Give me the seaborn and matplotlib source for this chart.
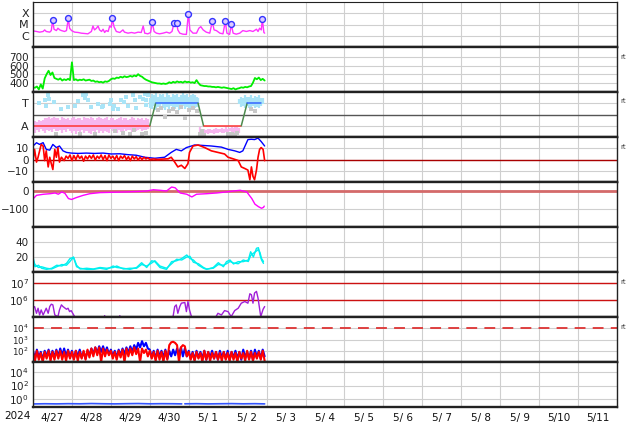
import numpy as np
import matplotlib
matplotlib.use('Agg')
import matplotlib.pyplot as plt
import seaborn as sns
from matplotlib.ticker import FixedLocator, FixedFormatter, NullLocator

sns.set_style('white')
plt.rcParams['font.family'] = ['DejaVu Sans']

# ---------------- data ----------------
day_labels = ['4/27', '4/28', '4/29', '4/30', '5/ 1', '5/ 2', '5/ 3', '5/ 4',
              '5/ 5', '5/ 6', '5/ 7', '5/ 8', '5/ 9', '5/10', '5/11']
year_label = '2024'

# X-ray flux (log10 W/m2), time in days from 4/27 00UT
xray_t = [0.00, 0.09, 0.17, 0.26, 0.30, 0.34, 0.43, 0.47, 0.505, 0.54,
          0.60, 0.64, 0.69, 0.73, 0.81, 0.86, 0.908, 0.94, 0.99, 1.07,
          1.16, 1.24, 1.33, 1.41, 1.50, 1.54, 1.58, 1.63, 1.67, 1.71,
          1.76, 1.80, 1.84, 1.88, 1.93, 1.97, 2.01, 2.038, 2.08, 2.14,
          2.23, 2.31, 2.35, 2.44, 2.53, 2.61, 2.70, 2.78, 2.83, 2.87,
          2.95, 3.02, 3.065, 3.11, 3.17, 3.25, 3.34, 3.43, 3.51, 3.57,
          3.622, 3.656, 3.69, 3.72, 3.77, 3.85, 3.94, 3.99, 4.03, 4.11,
          4.20, 4.26, 4.31, 4.37, 4.45, 4.54, 4.606, 4.65, 4.71, 4.80,
          4.88, 4.94, 4.98, 5.05, 5.094, 5.14, 5.22, 5.31, 5.39, 5.48,
          5.57, 5.65, 5.74, 5.78, 5.82, 5.865, 5.89, 5.93, 5.95]
xray_log = [-5.57, -5.62, -5.68, -5.62, -5.48, -5.62, -5.68, -5.54, -4.61, -5.42,
            -5.54, -5.33, -5.48, -5.54, -5.62, -5.54, -4.46, -5.33, -5.54, -5.68,
            -5.71, -5.77, -5.80, -5.83, -5.62, -5.13, -5.48, -5.33, -5.13, -5.48,
            -5.62, -5.42, -5.71, -5.54, -5.62, -5.13, -5.25, -4.46, -5.19, -5.62,
            -5.71, -5.48, -5.68, -5.77, -5.71, -5.77, -5.68, -5.71, -5.13, -5.77,
            -5.83, -5.71, -4.81, -5.62, -5.77, -5.83, -5.77, -5.68, -5.77, -5.62,
            -4.90, -5.19, -4.90, -5.48, -5.77, -5.86, -5.88, -4.03, -5.48, -5.77,
            -5.77, -5.33, -5.19, -5.48, -5.68, -5.77, -4.72, -5.48, -5.54, -5.77,
            -5.83, -4.72, -5.77, -5.88, -4.99, -5.77, -5.86, -5.77, -5.54, -5.62,
            -5.54, -5.62, -5.42, -5.62, -5.33, -5.48, -4.52, -5.71, -5.77]
flare_t = [0.505, 0.908, 2.038, 3.065, 3.622, 3.69, 3.99, 4.606, 4.94, 5.094, 5.89]
flare_log = [-4.61, -4.46, -4.46, -4.81, -4.90, -4.90, -4.03, -4.72, -4.72, -4.99, -4.52]

# Solar wind speed (km/s), every 0.05 day
sw_speed = [345, 340, 355, 320, 380, 330, 450, 500, 540, 490,
            520, 455, 445, 435, 450, 425, 440, 430, 445, 430,
            640, 430, 440, 425, 435, 430, 440, 425, 430, 435,
            420, 425, 410, 415, 405, 410, 400, 415, 410, 420,
            440, 450, 445, 460, 455, 470, 460, 475, 465, 470,
            480, 470, 485, 475, 500, 480, 470, 450, 435, 425,
            415, 405, 400, 395, 390, 390, 385, 390, 385, 390,
            405, 395, 410, 400, 415, 405, 410, 400, 415, 405,
            410, 400, 405, 395, 430, 395, 370, 365, 360, 360,
            355, 355, 350, 350, 345, 350, 345, 340, 345, 340,
            335, 330, 325, 335, 320, 330, 335, 345, 340, 350,
            345, 355, 360, 400, 455, 440, 460, 430, 445, 425]

# IMF sector (T=+1, A=-1)
sector_t = [0.0, 3.0, 3.15, 4.24, 4.38, 5.35, 5.5, 5.86]
sector_v = [-1, -1, 1, 1, -1, -1, 1, 1]
pink1_hi = [-0.7, -0.6, -0.65, -0.5, -0.55, -0.45, -0.3, -0.35, -0.25, -0.4,
            -0.3, -0.2, -0.35, -0.3, -0.45, -0.25, -0.3, -0.4, -0.35, -0.5,
            -0.3, -0.25, -0.4, -0.35, -0.3, -0.45, -0.2, -0.35, -0.3, -0.4,
            -0.25, -0.35, -0.45, -0.3, -0.2, -0.35, -0.4, -0.3, -0.25, -0.45,
            -0.35, -0.3, -0.5, -0.4, -0.3, -0.25, -0.45, -0.35, -0.3, -0.5,
            -0.4, -0.25, -0.35, -0.45, -0.3, -0.4, -0.35, -0.5, -0.3, -0.4]
pink1_lo = [-1.5, -1.6, -1.4, -1.55, -1.3, -1.45, -1.6, -1.35, -1.5, -1.4,
            -1.55, -1.3, -1.45, -1.5, -1.35, -1.6, -1.4, -1.55, -1.3, -1.5,
            -1.6, -1.45, -1.7, -1.5, -1.55, -1.4, -1.65, -1.5, -1.45, -1.6,
            -1.7, -1.5, -1.55, -1.4, -1.6, -1.5, -1.65, -1.45, -1.55, -1.6,
            -1.3, -1.5, -1.4, -1.6, -1.35, -1.55, -1.45, -1.3, -1.5, -1.4,
            -1.35, -1.55, -1.3, -1.45, -1.4, -1.3, -1.5, -1.35, -1.4, -1.3]
pink2_hi = [-1.1, -1.3, -1.25, -1.35, -1.3, -1.25, -1.35, -1.3, -1.2, -1.3, -1.25,
            -1.2, -1.3, -1.15, -1.25, -1.2, -1.1, -1.2, -1.15, -1.1, -1.2]
pink2_lo = [-1.7, -1.75, -1.7, -1.65, -1.7, -1.6, -1.65, -1.7, -1.6, -1.65, -1.55,
            -1.6, -1.65, -1.55, -1.6, -1.5, -1.55, -1.6, -1.5, -1.55, -1.6]
lblue2_hi = [1.5, 1.8, 1.7, 1.9, 1.6, 1.85, 1.7, 1.8, 1.6, 1.9, 1.75, 1.6, 1.8,
             1.7, 1.85, 1.6, 1.75, 1.9, 1.7, 1.8, 1.6, 1.75, 1.85, 1.7, 1.6, 1.5]
lblue2_lo = [0.6, 0.5, 0.8, 0.4, 0.7, 0.5, 0.9, 0.6, 0.4, 0.7, 0.5, 0.8, 0.6,
             0.5, 0.7, 0.4, 0.6, 0.8, 0.5, 0.7, 0.6, 0.5, 0.8, 0.6, 0.7, 0.9]
lblue3_hi = [1.4, 1.6, 1.5, 1.7, 1.55, 1.6, 1.75, 1.5, 1.65, 1.6, 1.7, 1.5, 1.45]
lblue3_lo = [0.9, 0.7, 0.8, 0.6, 0.75, 0.6, 0.7, 0.8, 0.55, 0.7, 0.6, 0.8, 0.9]
lblue_dot_t = [0.30, 0.34, 0.39, 0.40, 1.29, 1.33, 1.37, 1.40, 1.67, 1.76, 1.80, 1.97,
               2.01, 2.05, 2.08, 2.18, 2.35, 2.40, 2.44, 2.57, 2.61, 2.65, 2.74, 2.83,
               2.87, 2.89, 2.91, 2.95, 1.07, 0.73, 0.90, 0.15, 0.55, 1.15, 1.50, 2.25]
lblue_dot_v = [1.3, 0.8, 1.7, 1.4, 1.7, 1.5, 1.85, 1.3, 0.95, 0.65, 0.8, 0.95,
               1.25, 0.5, 0.8, 0.5, 1.1, 1.55, 0.8, 1.7, 1.3, 0.6, 1.55, 1.4,
               1.85, 1.3, 0.85, 1.7, 0.8, 0.5, 0.65, 1.0, 1.1, 1.2, 0.7, 1.3]
gray_dot_t = [2.1, 2.3, 2.5, 2.6, 2.8, 2.9, 3.2, 3.3, 3.4, 3.5, 3.6, 3.7, 3.8, 3.9,
              4.0, 4.1, 4.2, 4.3, 4.35, 4.4, 5.0, 5.1, 5.2, 5.25, 5.6, 5.7, 0.6, 1.2, 1.6]
gray_dot_v = [-1.5, -1.6, -1.7, -1.4, -1.75, -1.6, 0.4, 0.6, -0.2, 0.3, 0.5, 0.2, 0.7, -0.3,
              0.4, 0.6, 0.3, -1.7, -1.5, -1.8, -1.75, -1.7, -1.8, -1.6, 0.5, 0.3, -1.7, -1.75, -1.7]

# IMF Bt and Bz (nT)
bt_t = [0.00, 0.09, 0.17, 0.26, 0.34, 0.43, 0.51, 0.60, 0.68, 0.77, 0.86, 0.98,
        1.16, 1.37, 1.58, 1.80, 2.01, 2.23, 2.44, 2.65, 2.87, 3.13, 3.38, 3.55,
        3.68, 3.81, 3.94, 4.07, 4.15, 4.32, 4.58, 4.84, 5.01, 5.18, 5.31, 5.39,
        5.52, 5.61, 5.69, 5.78, 5.86, 5.95]
bt_v = [12, 14.9, 13.4, 15, 9, 8.3, 13.4, 10.6, 12, 7.7, 6.3, 5.7,
        5.4, 5.7, 5.4, 5.7, 4.9, 5.1, 4.3, 3.8, 2.0, 1.1, 2.0, 6.3,
        9, 7.7, 10.6, 12, 12.9, 12.6, 12, 11, 9, 7.7, 6.3, 7.7,
        17.7, 18, 17.7, 19, 16, 12]
bz_t = [0.00, 0.04, 0.09, 0.13, 0.17, 0.21, 0.26, 0.30, 0.34, 0.39, 0.43, 0.47,
        0.51, 0.56, 0.60, 0.64, 0.68, 0.73, 0.80, 0.85, 0.90, 0.95, 1.00, 1.05,
        1.10, 1.15, 1.20, 1.25, 1.30, 1.35, 1.40, 1.45, 1.50, 1.55, 1.60, 1.65,
        1.70, 1.75, 1.80, 1.85, 1.90, 1.95, 2.00, 2.05, 2.10, 2.15, 2.20, 2.25,
        2.30, 2.35, 2.40, 2.45, 2.50, 2.55, 2.60, 2.65, 2.70, 2.75, 2.80, 2.85,
        2.90, 2.95, 3.00, 3.10, 3.20, 3.30, 3.40, 3.47, 3.55, 3.64, 3.72, 3.81,
        3.90, 3.98, 4.02, 4.11, 4.24, 4.41, 4.58, 4.75, 4.92, 5.01, 5.14, 5.27,
        5.35, 5.44, 5.52, 5.57, 5.61, 5.65, 5.69, 5.74, 5.78, 5.82, 5.86, 5.91, 5.95]
bz_v = [-1, 9, -2.3, 2, 7.7, 13.4, 12, -1, 7.7, -6.6, 2, -3.7,
        -8.9, 9, 2, 10.6, -2.3, 2, -1, 3, 1, 4, -1, 3.5,
        0, 4, 1, 3, -1.5, 3, 0.5, 3.5, 1, 4, -0.5, 3,
        1, 4, 0, 3.5, -1, 4, 1, 3, 0, 3.5, -1, 3,
        1, 3.5, 0, 2.5, -1, 3, 0.5, 2.5, -0.5, 2, 0, 2,
        0.5, 1.5, 0, 0.5, 0, 0.3, 0.5, 0.6, 2, -2.3, -6.6, -5.1,
        -8, -3.7, 6.3, 12, 12.9, 10.6, 7.7, 6.3, 4.9, 2, 0.6, -0.9,
        -6.6, -8, -9.4, -18, -6.6, -15, -18, -9.4, 2, 9, 10.6, 9, -1]

# Dst (nT)
dst_t = [0.01, 0.09, 0.27, 0.44, 0.57, 0.65, 0.74, 0.82, 0.91, 0.99, 1.12, 1.29, 1.46,
         1.72, 2.06, 2.41, 2.75, 2.92, 3.09, 3.26, 3.43, 3.56, 3.65, 3.78, 3.95, 4.08,
         4.20, 4.46, 4.72, 4.97, 5.15, 5.32, 5.49, 5.62, 5.70, 5.79, 5.87, 5.92, 5.94]
dst_v = [-42, -24, -18, -15, -11, -18, -5, -13, -42, -47, -36, -24, -15,
         -9, -7, -5, -2, 0, 7, 4, 0, 22, 18, -11, -18, -33,
         -18, -15, -11, -5, 0, 4, -5, -42, -73, -87, -96, -91, -84]

# Cyan index (two traces)
cyan_t = [0.01, 0.05, 0.14, 0.22, 0.35, 0.48, 0.61, 0.74, 0.86, 0.95, 1.04, 1.12, 1.21,
          1.38, 1.55, 1.72, 1.89, 2.06, 2.15, 2.32, 2.49, 2.66, 2.79, 2.92, 3.05, 3.13,
          3.26, 3.43, 3.56, 3.69, 3.82, 3.95, 4.03, 4.12, 4.25, 4.38, 4.46, 4.63, 4.76,
          4.89, 4.97, 5.06, 5.15, 5.27, 5.40, 5.53, 5.59, 5.66, 5.74, 5.79, 5.83, 5.87, 5.92]
cyan_a = [18, 7, 9, 5, 3.5, 5, 9, 8, 11.5, 18, 19.5, 7, 5,
          3.5, 3.5, 5, 3.5, 8, 6, 5, 3.5, 6, 12.4, 6, 15, 13.8,
          6, 3.5, 13.8, 15, 18, 22.7, 18, 16, 9, 5, 3.5, 6, 12.4,
          7, 13.8, 16, 10.7, 13.8, 13.8, 16, 27, 20, 31.6, 32.4, 22.7, 16, 11.5]
cyan_b = [15, 10, 6, 7, 5, 4, 7, 10, 9, 14, 20, 9, 4,
          5, 4, 6, 5, 6, 8, 4, 5, 5, 10, 8, 12, 15,
          8, 5, 11, 17, 16, 20, 21, 13, 11, 6, 4, 5, 10,
          9, 11, 14, 12, 11, 16, 14, 22, 25, 28, 30, 26, 18, 14]

# Electron flux (log10)
el_t = [0.00, 0.04, 0.09, 0.13, 0.17, 0.21, 0.26, 0.34, 0.39, 0.43, 0.47, 0.51, 0.56,
        0.64, 0.68, 0.73, 0.77, 0.86, 0.90, 0.94, 0.98, 1.03, 1.07, 1.16, 1.80, 1.84,
        1.88, 2.19, 2.23, 2.27, 3.50, 3.60, 3.64, 3.68, 3.72, 3.77, 3.81, 3.90, 3.94,
        3.98, 4.02, 4.07, 4.15, 4.62, 4.71, 4.75, 4.84, 4.92, 5.01, 5.09, 5.18, 5.27,
        5.35, 5.44, 5.52, 5.57, 5.61, 5.65, 5.69, 5.74, 5.78, 5.85, 5.91, 5.95]
el_log = [5.5, 5.6, 5.2, 5.5, 5.1, 5.4, 5.1, 5.5, 5.2, 5.6, 5.74, 5.7, 5.1,
          5.0, 5.4, 5.7, 5.6, 5.44, 5.5, 5.3, 5.36, 5.16, 5.0, 4.6, 4.6, 5.06,
          4.6, 4.6, 5.06, 4.6, 4.6, 5.04, 5.6, 5.7, 5.2, 5.6, 5.8, 5.84, 5.3,
          5.9, 5.4, 5.0, 4.6, 4.6, 5.04, 5.2, 5.1, 5.36, 5.3, 5.0, 5.36, 5.5,
          5.8, 5.9, 5.8, 6.36, 6.3, 5.8, 6.4, 6.5, 6.1, 5.0, 5.44, 5.6]

# Proton flux (log10), every 0.05 day
pro_blue = [2.0, 1.3, 2.1, 1.4, 1.9, 1.2, 2.0, 1.5, 2.1, 1.3, 2.0, 1.4, 2.1, 1.5, 2.2, 1.6, 2.2, 1.5, 2.1, 1.4,
            2.0, 1.3, 2.0, 1.5, 2.1, 1.4, 1.9, 1.3, 2.0, 1.6, 2.2, 1.7, 2.3, 1.8, 2.4, 1.9, 2.4, 1.8, 2.3, 1.7,
            2.1, 1.5, 2.0, 1.4, 2.1, 1.6, 2.2, 1.7, 2.3, 1.8, 2.4, 1.9, 2.5, 2.1, 2.7, 2.3, 2.85, 2.4, 2.7, 2.2,
            2.1, 1.4, 2.0, 1.3, 2.1, 1.5, 2.0, 1.4, 2.1, 1.3, 2.0, 1.5, 2.1, 1.6, 2.2, 1.7, 2.3, 1.5, 2.2, 1.5,
            2.0, 1.3, 1.9, 1.2, 2.0, 1.4, 1.9, 1.3, 2.0, 1.2, 1.9, 1.4, 2.0, 1.3, 1.9, 1.2, 2.0, 1.4, 1.9, 1.3,
            2.0, 1.2, 1.9, 1.4, 2.0, 1.3, 1.9, 1.2, 2.1, 1.4, 1.9, 1.3, 2.0, 1.2, 2.1, 1.4, 2.0, 1.3, 2.1, 1.5]
pro_red = [1.9, 1.1, 2.0, 1.2, 1.8, 1.0, 1.9, 1.3, 2.0, 1.1, 1.9, 1.2, 2.0, 1.3, 2.0, 1.2, 1.9, 1.1, 2.0, 1.3,
           1.9, 1.2, 2.0, 1.1, 1.9, 1.3, 2.0, 1.2, 2.1, 1.4, 2.2, 1.5, 2.3, 1.6, 2.3, 1.0, 2.2, 1.5, 2.1, 1.6,
           2.0, 1.3, 1.9, 1.2, 2.0, 1.4, 2.1, 1.0, 2.2, 1.5, 2.2, 1.6, 2.3, 1.7, 2.2, 1.0, 2.2, 1.8, 2.1, 1.5,
           2.0, 1.3, 1.9, 1.1, 2.0, 1.2, 1.9, 1.0, 2.0, 1.2, 2.5, 2.75, 2.8, 2.7, 2.5, 1.0, 2.3, 2.5, 2.4, 1.5,
           1.9, 1.2, 1.8, 1.1, 1.9, 1.3, 1.8, 1.0, 2.0, 1.2, 1.9, 1.1, 1.8, 1.3, 1.9, 1.2, 1.8, 1.1, 1.9, 1.2,
           1.8, 1.1, 1.9, 1.2, 1.8, 1.0, 1.9, 1.3, 1.8, 1.1, 2.0, 1.2, 1.9, 1.1, 1.8, 1.3, 1.9, 1.2, 2.0, 1.1]

# Bottom panel (log10)
low_t1 = [0.0, 0.3, 0.6, 0.9, 1.2, 1.5, 1.8, 2.1, 2.4, 2.7, 3.0, 3.3, 3.6, 3.82]
low_v1 = [-0.66, -0.63, -0.65, -0.62, -0.64, -0.60, -0.63, -0.65, -0.62, -0.60, -0.64, -0.62, -0.63, -0.65]
low_t2 = [3.9, 4.2, 4.5, 4.8, 5.1, 5.4, 5.7, 5.95]
low_v2 = [-0.64, -0.62, -0.65, -0.63, -0.61, -0.64, -0.62, -0.65]

# ---------------- figure ----------------
W, H = 634, 424
fig = plt.figure(figsize=(W / 100, H / 100), dpi=100)
L, R = 33, 617
tops = [2, 47, 92, 137, 182, 227, 272, 317, 362]
PH = 45
GRID = '#cfcfcf'
FS = 7.5


def line(ax, x, y, color, lw=1.0, **kw):
    sns.lineplot(x=np.asarray(x, float), y=np.asarray(y, float), ax=ax, color=color,
                 linewidth=lw, estimator=None, sort=False, legend=False, **kw)


axes = []
for i, t in enumerate(tops):
    ax = fig.add_axes([L / W, 1 - (t + PH) / H, (R - L) / W, PH / H])
    ax.set_xlim(0, 15)
    ax.xaxis.set_major_locator(FixedLocator(range(16)))
    ax.xaxis.set_minor_locator(FixedLocator([d + 0.5 for d in range(15)]))
    ax.tick_params(axis='x', which='major', length=2, direction='in', labelbottom=False, colors='#333333')
    ax.tick_params(axis='x', which='minor', length=0, labelbottom=False)
    ax.tick_params(axis='y', which='major', length=0, pad=3, labelsize=FS, labelcolor='#222222')
    ax.tick_params(axis='y', which='minor', length=0)
    ax.grid(True, axis='x', which='major', color=GRID, lw=0.8)
    ax.grid(True, axis='y', which='major', color=GRID, lw=0.8)
    ax.set_axisbelow(True)
    for s in ['left', 'right']:
        ax.spines[s].set_color('#222222')
        ax.spines[s].set_linewidth(1.0)
    for s in ['top', 'bottom']:
        ax.spines[s].set_color('#222222')
        ax.spines[s].set_linewidth(1.7)
    if i == 0:
        ax.spines['top'].set_linewidth(0.8)
    axes.append(ax)

# Panel 1: X-ray
ax = axes[0]
ax.set_yscale('log')
ax.set_ylim(1e-7, 1e-3)
ax.yaxis.set_major_locator(FixedLocator([1e-6, 1e-5, 1e-4]))
ax.yaxis.set_major_formatter(FixedFormatter(['C', 'M', 'X']))
ax.yaxis.set_minor_locator(NullLocator())
ax.tick_params(axis='y', labelsize=8)
line(ax, xray_t, 10 ** np.array(xray_log), '#ff33ff', 1.0)
sns.scatterplot(x=flare_t, y=10 ** np.array(flare_log), ax=ax, s=18, marker='o',
                color='#dccbff', edgecolor='#3333ff', linewidth=1.0, zorder=5, legend=False)

# Panel 2: solar wind
ax = axes[1]
sw_t = np.arange(len(sw_speed)) * 0.05
ax.set_ylim(290, 820)
ax.yaxis.set_major_locator(FixedLocator([400, 500, 600, 700]))
line(ax, sw_t, sw_speed, '#00ee00', 1.3)

# Panel 3: sector
ax = axes[2]
ax.set_ylim(-2, 2)
ax.yaxis.set_major_locator(FixedLocator([-1, 1]))
ax.yaxis.set_major_formatter(FixedFormatter(['A', 'T']))
ax.tick_params(axis='y', labelsize=8)
ax.axhline(0, color='#555555', lw=1.0, zorder=1)
p1_t = np.arange(len(pink1_hi)) * 0.05
p2_t = 4.30 + np.arange(len(pink2_hi)) * 0.05
b2_t = 3.00 + np.arange(len(lblue2_hi)) * 0.05
b3_t = 5.30 + np.arange(len(lblue3_hi)) * 0.05
ax.vlines(p1_t, pink1_lo, pink1_hi, color='#f7b6ef', lw=1.6, zorder=2)
ax.vlines(p2_t, pink2_lo, pink2_hi, color='#f7b6ef', lw=1.6, zorder=2)
ax.vlines(b2_t, lblue2_lo, lblue2_hi, color='#a9e4f7', lw=1.6, zorder=2)
ax.vlines(b3_t, lblue3_lo, lblue3_hi, color='#a9e4f7', lw=1.6, zorder=2)
sns.scatterplot(x=lblue_dot_t, y=lblue_dot_v, ax=ax, s=5, marker='s', color='#a9e4f7',
                linewidth=0, zorder=2, legend=False)
sns.scatterplot(x=gray_dot_t, y=gray_dot_v, ax=ax, s=5, marker='s', color='#c8c8c8',
                linewidth=0, zorder=2, legend=False)
for k in range(len(sector_t) - 1):
    v0, v1 = sector_v[k], sector_v[k + 1]
    if v0 == v1:
        c = '#ff3333' if v0 < 0 else '#3366ff'
    else:
        c = '#4d8a4d'
    line(ax, sector_t[k:k + 2], sector_v[k:k + 2], c, 1.1)

# Panel 4: IMF
ax = axes[3]
ax.set_ylim(-20, 20)
ax.yaxis.set_major_locator(FixedLocator([-10, 0, 10]))
ax.axhline(0, color='#aa0000', lw=1.0, zorder=1)
line(ax, bt_t, bt_v, '#0000ff', 1.0)
line(ax, bz_t, bz_v, '#ff0000', 1.2)

# Panel 5: Dst
ax = axes[4]
ax.set_ylim(-200, 50)
ax.yaxis.set_major_locator(FixedLocator([-100, 0]))
ax.axhline(0, color='#d46a6a', lw=2.0, zorder=1)
line(ax, dst_t, dst_v, '#ff00ff', 1.0)

# Panel 6: cyan
ax = axes[5]
ax.set_ylim(0, 60)
ax.yaxis.set_major_locator(FixedLocator([20, 40]))
line(ax, cyan_t, cyan_b, '#00f0f0', 1.0)
line(ax, cyan_t, cyan_a, '#00f0f0', 1.0)

# Panel 7: electrons
ax = axes[6]
ax.set_yscale('log')
ax.set_ylim(10 ** 4.98, 10 ** 7.65)
ax.yaxis.set_major_locator(FixedLocator([1e6, 1e7]))
ax.yaxis.set_major_formatter(FixedFormatter([r'$10^6$', r'$10^7$']))
ax.yaxis.set_minor_locator(NullLocator())
ax.axhline(1e6, color='#cc1111', lw=1.0, zorder=1)
ax.axhline(1e7, color='#cc1111', lw=1.0, zorder=1)
line(ax, el_t, 10 ** np.array(el_log), '#a020d8', 1.0)

# Panel 8: protons
ax = axes[7]
ax.set_yscale('log')
ax.set_ylim(10, 1e5)
ax.yaxis.set_major_locator(FixedLocator([1e2, 1e3, 1e4]))
ax.yaxis.set_major_formatter(FixedFormatter([r'$10^2$', r'$10^3$', r'$10^4$']))
ax.yaxis.set_minor_locator(NullLocator())
ax.tick_params(axis='y', labelsize=6.3)
ax.axhline(1e4, color='#dd3333', lw=1.3, ls=(0, (6, 4)), zorder=1)
pro_t = np.arange(len(pro_blue)) * 0.05
line(ax, pro_t, 10 ** np.array(pro_blue), '#0000ff', 1.5)
line(ax, pro_t, 10 ** np.array(pro_red), '#ff0000', 1.5)

# Panel 9
ax = axes[8]
ax.set_yscale('log')
ax.set_ylim(10 ** -1.1, 10 ** 5.4)
ax.yaxis.set_major_locator(FixedLocator([1, 1e2, 1e4]))
ax.yaxis.set_major_formatter(FixedFormatter([r'$10^0$', r'$10^2$', r'$10^4$']))
ax.yaxis.set_minor_locator(NullLocator())
line(ax, low_t1, 10 ** np.array(low_v1), '#3355ff', 1.2)
line(ax, low_t2, 10 ** np.array(low_v2), '#3355ff', 1.2)
ax.xaxis.set_minor_formatter(FixedFormatter(day_labels))
ax.tick_params(axis='x', which='minor', labelbottom=True, labelsize=FS, pad=4, labelcolor='#111111')
ax.tick_params(axis='x', which='major', labelbottom=False)

for ax in axes:
    ax.set_xlabel('')
    ax.set_ylabel('')

fig.text(4 / W, 1 - 416 / H, year_label, fontsize=FS, va='center', ha='left', color='#111111')
for yy in [57, 101, 147, 282, 327]:
    fig.text(620 / W, 1 - yy / H, 'rt', fontsize=5, va='center', ha='left', color='#444444')

fig.savefig('out.png', dpi=100)
